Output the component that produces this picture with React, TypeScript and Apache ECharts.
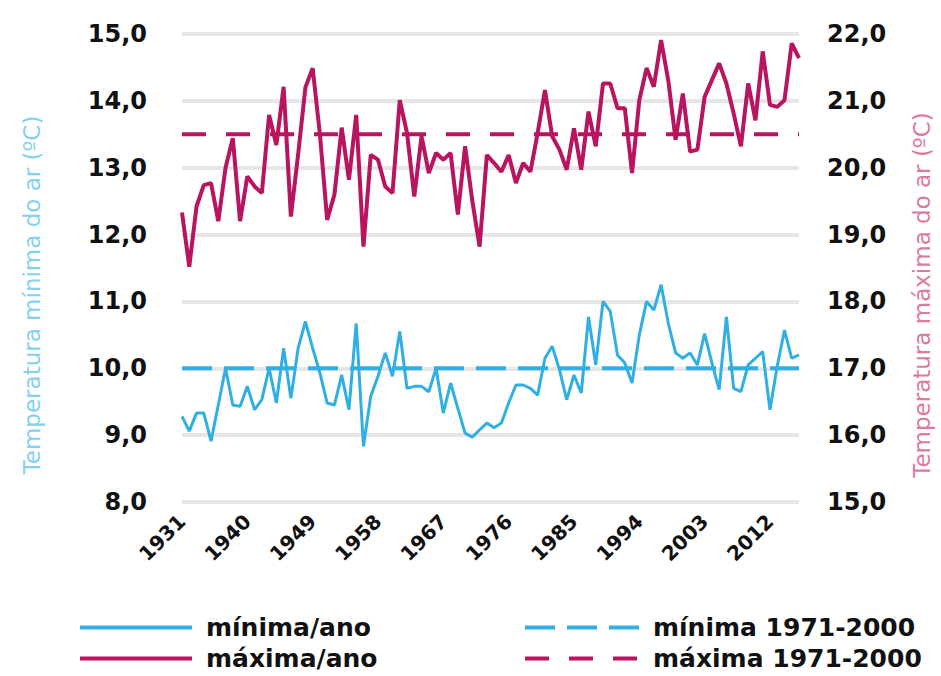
import React, { useEffect, useRef } from "react";
import * as echarts from "echarts";

const years: string[] = [];
for (let y = 1931; y <= 2016; y++) years.push(String(y));

const minValues = [
  9.28, 9.06, 9.33, 9.33, 8.91, 9.45, 10.0, 9.45, 9.43, 9.73,
  9.38, 9.53, 10.0, 9.48, 10.3, 9.55, 10.3, 10.7, 10.3, 9.93,
  9.48, 9.45, 9.9, 9.38, 10.67, 8.83, 9.58, 9.88, 10.23, 9.88,
  10.55, 9.7, 9.73, 9.73, 9.65, 10.0, 9.33, 9.78, 9.4, 9.03,
  8.97, 9.08, 9.18, 9.11, 9.18, 9.48, 9.75, 9.75, 9.7, 9.6,
  10.15, 10.33, 9.98, 9.53, 9.9, 9.63, 10.77, 10.05, 11.0, 10.85,
  10.2, 10.08, 9.78, 10.5, 11.0, 10.87, 11.25, 10.67, 10.23, 10.15,
  10.23, 10.05, 10.52, 10.08, 9.68, 10.77, 9.7, 9.65, 10.05, 10.15,
  10.25, 9.38, 10.03, 10.57, 10.15, 10.2,
];

const maxValues = [
  19.33, 18.52, 19.42, 19.74, 19.77, 19.2, 20.0, 20.44, 19.2, 19.87,
  19.72, 19.62, 20.79, 20.34, 21.21, 19.27, 20.2, 21.2, 21.49, 20.5,
  19.22, 19.6, 20.6, 19.82, 20.79, 18.82, 20.19, 20.12, 19.72, 19.62,
  21.01, 20.52, 19.57, 20.47, 19.92, 20.22, 20.12, 20.22, 19.3, 20.32,
  19.5, 18.82, 20.19, 20.07, 19.94, 20.19, 19.77, 20.07, 19.94, 20.52,
  21.16, 20.47, 20.27, 19.97, 20.59, 19.97, 20.84, 20.32, 21.26, 21.26,
  20.89, 20.89, 19.92, 21.01, 21.49, 21.21, 21.91, 21.3, 20.42, 21.11,
  20.24, 20.27, 21.06, 21.31, 21.56, 21.26, 20.81, 20.32, 21.26, 20.71,
  21.74, 20.94, 20.91, 21.01, 21.86, 21.64,
];

const minNormal = 10.0;
const maxNormal = 20.5;

const seriesNames = ["mínima/ano", "máxima/ano", "mínima 1971-2000", "máxima 1971-2000"];
const leftTitle = "Temperatura mínima do ar (ºC)";
const rightTitle = "Temperatura máxima do ar (ºC)";

const CYAN = "#2fafe3";
const MAGENTA = "#b8145f";
const FONT = "DejaVu Sans";

const fmt = (v: number) => v.toFixed(1).replace(".", ",");

export default function App() {
  const ref = useRef<HTMLDivElement>(null);
  useEffect(() => {
    if (!ref.current) return;
    const chart = echarts.init(ref.current, null, { renderer: "svg" });
    const labelStyle = {
      color: "#111",
      fontFamily: FONT,
      fontWeight: "bold" as const,
      fontSize: 24,
    };
    const legendItem = (name: string, left: number, top: number, width: number) => ({
      data: [name],
      orient: "horizontal",
      left,
      top,
      padding: 0,
      itemWidth: width,
      itemHeight: 4,
      itemGap: 8,
      lineStyle: { width: 4 },
      textStyle: {
        color: "#111",
        fontFamily: FONT,
        fontWeight: "bold",
        fontSize: 25,
        lineHeight: 22,
        padding: [0, 0, 0, 9],
      },
    });
    chart.setOption({
      animation: false,
      backgroundColor: "#fff",
      grid: { left: 182, right: 142, top: 34, bottom: 174, containLabel: false },
      xAxis: {
        type: "category",
        data: years,
        boundaryGap: false,
        axisLine: { show: false },
        axisTick: { show: false },
        splitLine: { show: false },
        axisLabel: {
          interval: 8,
          rotate: 45,
          margin: 16,
          color: "#111",
          fontFamily: FONT,
          fontWeight: "bold",
          fontSize: 20,
        },
      },
      yAxis: [
        {
          type: "value",
          min: 8,
          max: 15,
          interval: 1,
          axisLine: { show: false },
          axisTick: { show: false },
          splitLine: { show: true, lineStyle: { color: "#e6e6e6", width: 4 } },
          axisLabel: { ...labelStyle, margin: 35, formatter: (v: number) => fmt(v) },
        },
        {
          type: "value",
          min: 15,
          max: 22,
          interval: 1,
          axisLine: { show: false },
          axisTick: { show: false },
          splitLine: { show: false },
          axisLabel: { ...labelStyle, margin: 28, formatter: (v: number) => fmt(v) },
        },
      ],
      legend: [
        legendItem(seriesNames[0], 78, 615, 112),
        legendItem(seriesNames[1], 78, 646, 112),
        legendItem(seriesNames[2], 523, 615, 114),
        legendItem(seriesNames[3], 523, 646, 114),
      ],
      graphic: [
        {
          type: "text",
          x: 32,
          y: 295,
          rotation: Math.PI / 2,
          style: {
            text: leftTitle,
            fill: "#86d1f0",
            font: `23px ${FONT}`,
            align: "center",
            verticalAlign: "middle",
          },
        },
        {
          type: "text",
          x: 922,
          y: 295,
          rotation: Math.PI / 2,
          style: {
            text: rightTitle,
            fill: "#dc7aa6",
            font: `23px ${FONT}`,
            align: "center",
            verticalAlign: "middle",
          },
        },
      ],
      series: [
        {
          name: seriesNames[2],
          type: "line",
          yAxisIndex: 0,
          data: years.map(() => minNormal),
          symbol: "none",
          itemStyle: { color: CYAN },
          lineStyle: { color: CYAN, width: 4, type: [30, 12] },
          z: 2,
        },
        {
          name: seriesNames[3],
          type: "line",
          yAxisIndex: 1,
          data: years.map(() => maxNormal),
          symbol: "none",
          itemStyle: { color: MAGENTA },
          lineStyle: { color: MAGENTA, width: 4, type: [24, 20] },
          z: 2,
        },
        {
          name: seriesNames[0],
          type: "line",
          yAxisIndex: 0,
          data: minValues,
          symbol: "none",
          itemStyle: { color: CYAN },
          lineStyle: { color: CYAN, width: 3 },
          z: 3,
        },
        {
          name: seriesNames[1],
          type: "line",
          yAxisIndex: 1,
          data: maxValues,
          symbol: "none",
          itemStyle: { color: MAGENTA },
          lineStyle: { color: MAGENTA, width: 4 },
          z: 3,
        },
      ],
    });
    return () => chart.dispose();
  }, []);
  return (
    <div
      ref={ref}
      style={{ position: "fixed", left: 0, top: 0, width: 941, height: 676, background: "#fff" }}
    />
  );
}
